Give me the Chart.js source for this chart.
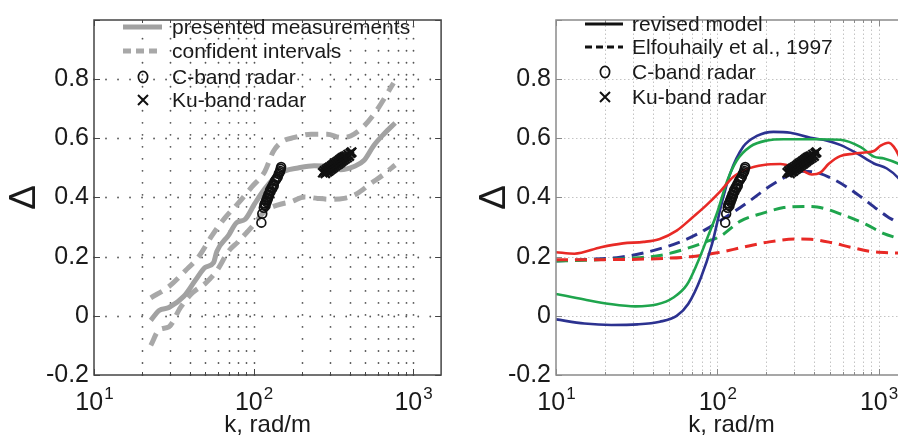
<!DOCTYPE html>
<html>
<head>
<meta charset="utf-8">
<script src="https://cdn.jsdelivr.net/npm/chart.js@4.4.0/dist/chart.umd.min.js"></script>
<style>
  html, body { margin: 0; padding: 0; background: #fff; overflow: hidden; width: 898px; height: 441px; }
  canvas { position: absolute; top: 0; }
  #left { left: 0; }
  #right { left: 450px; }
</style>
</head>
<body>
<canvas id="left" width="450" height="441"></canvas>
<canvas id="right" width="470" height="441"></canvas>
<script>
// ---- axis layout values ----
const kMin = 10, kMax = 1500;
const kDecades = [10, 100, 1000];
const kExponents = ['1', '2', '3'];
const kGridLines = [20, 30, 40, 50, 60, 70, 80, 90, 100, 200, 300, 400, 500, 600, 700, 800, 900, 1000];
const deltaTicks = [-0.2, 0, 0.2, 0.4, 0.6, 0.8, 1.0];
const deltaGridLines = [0, 0.2, 0.4, 0.6, 0.8];

// ---- left panel: measured Delta and its confidence band ----
const measK = [22.7, 25.6, 29.5, 36.6, 43.2, 49.9, 56.2, 58.9, 69.7, 78.4, 88.5, 102, 118, 136, 157, 190, 240, 305, 352, 427, 492, 568, 655, 773];
const measD = [-0.015, 0.018, 0.028, 0.066, 0.12, 0.164, 0.18, 0.218, 0.272, 0.315, 0.326, 0.38, 0.43, 0.467, 0.49, 0.50, 0.507, 0.505, 0.494, 0.505, 0.525, 0.576, 0.614, 0.652];
const upperK = [22.7, 29.5, 37.5, 45.3, 55, 66.4, 80, 97.3, 118, 132.5, 149.5, 181, 229, 290, 352, 406, 492, 593, 755];
const upperD = [0.061, 0.099, 0.153, 0.2, 0.272, 0.332, 0.38, 0.435, 0.489, 0.554, 0.587, 0.603, 0.614, 0.614, 0.603, 0.608, 0.641, 0.695, 0.787];
const lowerK = [22.7, 25.6, 29.5, 34.8, 41.3, 49.9, 58.9, 69.7, 80, 97.3, 118, 143, 173, 209, 252, 305, 369, 446, 539, 655, 773];
const lowerD = [-0.10, -0.047, -0.037, 0.028, 0.077, 0.11, 0.153, 0.218, 0.25, 0.3, 0.354, 0.375, 0.386, 0.402, 0.397, 0.394, 0.397, 0.413, 0.446, 0.478, 0.51];

// ---- radar estimates (both panels) ----
const cBandK = [112, 113.5, 116, 117, 118, 119, 120, 121, 122, 123, 124, 125, 126, 127, 128, 130, 131, 133, 134, 136, 138, 140, 142, 144, 146, 147, 148, 149];
const cBandD = [0.315, 0.345, 0.365, 0.375, 0.38, 0.372, 0.39, 0.385, 0.40, 0.395, 0.41, 0.405, 0.415, 0.425, 0.42, 0.435, 0.43, 0.445, 0.44, 0.455, 0.46, 0.465, 0.47, 0.48, 0.485, 0.49, 0.497, 0.503];
const kuBandK = [272, 278, 282, 286, 290, 293, 297, 300, 304, 308, 311, 315, 318, 322, 326, 330, 334, 338, 342, 346, 350, 354, 358, 362, 366, 370, 375, 380, 386, 392, 398, 405, 412];
const kuBandD = [0.484, 0.49, 0.482, 0.494, 0.487, 0.498, 0.49, 0.502, 0.495, 0.506, 0.499, 0.51, 0.503, 0.514, 0.507, 0.518, 0.511, 0.522, 0.515, 0.526, 0.519, 0.53, 0.523, 0.534, 0.527, 0.537, 0.531, 0.54, 0.535, 0.545, 0.54, 0.55, 0.553];

// ---- right panel: revised model (solid) ----
const revRedK = [10, 13, 19, 26, 35, 44, 56, 71, 86, 104, 126, 153, 194, 246, 298, 340, 385, 435, 491, 578, 700, 815, 935, 1030, 1150, 1240, 1330, 1420];
const revRedD = [0.215, 0.21, 0.232, 0.245, 0.25, 0.26, 0.288, 0.335, 0.375, 0.42, 0.47, 0.496, 0.51, 0.513, 0.503, 0.49, 0.478, 0.484, 0.514, 0.54, 0.548, 0.552, 0.557, 0.575, 0.585, 0.572, 0.543, 0.5];
const revGreenK = [10, 15, 21.6, 31, 42, 53.5, 64.8, 74.8, 87, 100, 115, 132, 160, 204, 258, 416, 578, 775, 935, 1080, 1330, 1420];
const revGreenD = [0.074, 0.055, 0.04, 0.032, 0.038, 0.062, 0.105, 0.175, 0.265, 0.35, 0.455, 0.525, 0.572, 0.593, 0.597, 0.597, 0.595, 0.57, 0.538, 0.532, 0.514, 0.505];
const revBlueK = [10, 15, 22, 32, 44, 56, 66, 79, 93, 107, 120, 145, 176, 223, 284, 378, 480, 578, 730, 935, 1125, 1330, 1420];
const revBlueD = [-0.012, -0.026, -0.031, -0.029, -0.02, 0.0, 0.04, 0.128, 0.245, 0.385, 0.48, 0.572, 0.608, 0.622, 0.619, 0.602, 0.592, 0.578, 0.55, 0.515, 0.498, 0.465, 0.44];

// ---- right panel: Elfouhaily et al., 1997 (dashed) ----
const elfRedK = [10, 20, 46, 68, 100, 145, 210, 320, 380, 505, 670, 890, 1190, 1420];
const elfRedD = [0.19, 0.19, 0.194, 0.2, 0.213, 0.232, 0.25, 0.26, 0.259, 0.248, 0.232, 0.218, 0.213, 0.212];
const elfGreenK = [10, 19, 32, 45, 65, 85, 105, 139, 194, 258, 345, 416, 610, 830, 1080, 1330, 1420];
const elfGreenD = [0.185, 0.19, 0.196, 0.205, 0.228, 0.25, 0.27, 0.32, 0.348, 0.366, 0.37, 0.368, 0.34, 0.31, 0.278, 0.261, 0.255];
const elfBlueK = [10, 15, 25, 41, 64, 90, 120, 160, 210, 284, 340, 416, 545, 730, 980, 1125, 1330, 1420];
const elfBlueD = [0.185, 0.19, 0.198, 0.222, 0.258, 0.3, 0.343, 0.39, 0.437, 0.477, 0.489, 0.484, 0.457, 0.413, 0.36, 0.337, 0.312, 0.3];

const FONT = '"Liberation Sans", Arial, Helvetica, sans-serif';
const RED = '#e82a26', GREEN = '#1fa54d', BLUE = '#2c3290';

const pts = (ks, ds) => ks.map((k, i) => ({ x: k, y: ds[i] }));

function curve(ks, ds, color, width, dash) {
  return {
    data: pts(ks, ds), showLine: true, pointRadius: 0, borderColor: color,
    borderWidth: width, borderDash: dash || [], cubicInterpolationMode: 'monotone', fill: false
  };
}
function cBandSet() {
  return { data: pts(cBandK, cBandD), showLine: false, pointStyle: 'circle', pointRadius: 4.4,
           borderColor: '#111', borderWidth: 1.7, backgroundColor: 'rgba(0,0,0,0)' };
}
function kuBandSet() {
  return { data: pts(kuBandK, kuBandD), showLine: false, pointStyle: 'crossRot', pointRadius: 6.5,
           borderColor: '#111', borderWidth: 2.4, backgroundColor: '#111' };
}

// frame, grid, inside ticks, decade labels and in-plot legend
function framePlugin(o) {
  return {
    id: 'frame',
    beforeDatasetsDraw(chart) {
      const { ctx, chartArea: a, scales: { x, y } } = chart;
      ctx.save();
      ctx.strokeStyle = o.gridColor; ctx.lineWidth = o.gridWidth;
      ctx.setLineDash(o.gridDash); ctx.lineCap = o.gridCap;
      kGridLines.forEach(k => {
        const px = Math.round(x.getPixelForValue(k)) + 0.5;
        ctx.beginPath(); ctx.moveTo(px, a.bottom); ctx.lineTo(px, a.top); ctx.stroke();
      });
      deltaGridLines.forEach(d => {
        const py = Math.round(y.getPixelForValue(d)) + 0.5;
        ctx.beginPath(); ctx.moveTo(a.left, py); ctx.lineTo(a.right, py); ctx.stroke();
      });
      ctx.restore();
    },
    afterDatasetsDraw(chart) {
      const { ctx, chartArea: a, scales: { x, y } } = chart;
      ctx.save();
      // inside tick marks
      ctx.strokeStyle = o.boxColor; ctx.lineWidth = 1; ctx.setLineDash([]);
      kGridLines.concat([10]).forEach(k => {
        const px = Math.round(x.getPixelForValue(k)) + 0.5;
        const len = kDecades.includes(k) ? 6 : 3;
        ctx.beginPath();
        ctx.moveTo(px, a.bottom); ctx.lineTo(px, a.bottom - len);
        ctx.moveTo(px, a.top); ctx.lineTo(px, a.top + len);
        ctx.stroke();
      });
      deltaTicks.forEach(d => {
        const py = Math.round(y.getPixelForValue(d)) + 0.5;
        ctx.beginPath();
        ctx.moveTo(a.left, py); ctx.lineTo(a.left + 6, py);
        ctx.moveTo(a.right, py); ctx.lineTo(a.right - 6, py);
        ctx.stroke();
      });
      // box
      ctx.lineWidth = o.boxWidth;
      ctx.strokeRect(a.left, a.top, a.right - a.left, a.bottom - a.top);
      // decade labels 10^n
      ctx.fillStyle = '#1a1a1a'; ctx.textBaseline = 'alphabetic'; ctx.textAlign = 'left';
      kDecades.forEach((k, i) => {
        const px = x.getPixelForValue(k);
        ctx.font = '25px ' + FONT;
        const wb = ctx.measureText('10').width;
        ctx.font = '17px ' + FONT;
        const we = ctx.measureText(kExponents[i]).width;
        const start = px - (wb + we) / 2;
        ctx.font = '25px ' + FONT;
        ctx.fillText('10', start, 410);
        ctx.font = '17px ' + FONT;
        ctx.fillText(kExponents[i], start + wb + 1, 399);
      });
      // legend
      ctx.font = '21px ' + FONT; ctx.textBaseline = 'middle';
      o.legend.forEach(it => {
        ctx.strokeStyle = it.color; ctx.lineWidth = it.width || 1.5;
        if (it.kind === 'line') {
          ctx.setLineDash(it.dash || []);
          ctx.beginPath(); ctx.moveTo(o.lx0, it.y); ctx.lineTo(o.lx1, it.y); ctx.stroke();
          ctx.setLineDash([]);
        } else if (it.kind === 'circle') {
          ctx.beginPath(); ctx.ellipse(o.lm, it.y, 4.6, 5.6, 0, 0, Math.PI * 2); ctx.stroke();
        } else {
          const r = 5;
          ctx.beginPath();
          ctx.moveTo(o.lm - r, it.y - r); ctx.lineTo(o.lm + r, it.y + r);
          ctx.moveTo(o.lm - r, it.y + r); ctx.lineTo(o.lm + r, it.y - r);
          ctx.stroke();
        }
        ctx.fillStyle = '#1a1a1a';
        ctx.fillText(it.text, o.lt, it.y + 1);
      });
      ctx.restore();
    }
  };
}

function makeOptions(yWidth, padRight, titlePad) {
  return {
    responsive: false, animation: false,
    layout: { padding: { left: 0, right: padRight, top: 6, bottom: 0 } },
    plugins: { legend: { display: false }, tooltip: { enabled: false } },
    scales: {
      x: {
        type: 'logarithmic', min: kMin, max: kMax,
        grid: { display: false, drawTicks: false }, border: { display: false },
        ticks: { display: false },
        title: { display: true, text: 'k, rad/m', color: '#1a1a1a', font: { size: 24, family: FONT },
                 padding: { top: 0, bottom: 1 } },
        afterFit: s => { s.height = 66; }
      },
      y: {
        type: 'linear', min: -0.2, max: 1.0,
        grid: { display: false, drawTicks: false }, border: { display: false },
        ticks: {
          stepSize: 0.2, padding: 5, color: '#1a1a1a', font: { size: 25, family: FONT },
          callback: v => (Math.abs(v - 1) < 1e-9 ? '' : String(Math.round(v * 10) / 10))
        },
        title: { display: true, text: 'Δ', color: '#1a1a1a', font: { size: 37, family: FONT },
                 padding: { top: titlePad, bottom: 0 } },
        afterFit: s => { s.width = yWidth; }
      }
    }
  };
}

const GREY = '#a2a2a2';
new Chart(document.getElementById('left'), {
  type: 'scatter',
  data: {
    datasets: [
      kuBandSet(),
      cBandSet(),
      curve(measK, measD, GREY, 5),
      curve(lowerK, lowerD, '#a8a8a8', 5, [13, 8]),
      curve(upperK, upperD, '#a8a8a8', 5, [13, 8])
    ]
  },
  options: makeOptions(94, 4, 3),
  plugins: [framePlugin({
    gridColor: '#555', gridWidth: 1.8, gridDash: [0.01, 12], gridCap: 'round',
    boxColor: '#444', boxWidth: 1.5,
    lx0: 123, lx1: 162, lm: 143, lt: 172,
    legend: [
      { kind: 'line', color: GREY, width: 5, text: 'presented measurements', y: 27 },
      { kind: 'line', color: '#a8a8a8', width: 5, dash: [8, 5], text: 'confident intervals', y: 51 },
      { kind: 'circle', color: '#111', width: 1.7, text: 'C-band radar', y: 77 },
      { kind: 'cross', color: '#111', width: 2, text: 'Ku-band radar', y: 100 }
    ]
  })]
});

new Chart(document.getElementById('right'), {
  type: 'scatter',
  data: {
    datasets: [
      kuBandSet(),
      cBandSet(),
      curve(revRedK, revRedD, RED, 2.6),
      curve(revGreenK, revGreenD, GREEN, 2.6),
      curve(revBlueK, revBlueD, BLUE, 2.6),
      curve(elfRedK, elfRedD, RED, 3, [12, 7]),
      curve(elfGreenK, elfGreenD, GREEN, 3, [12, 7]),
      curve(elfBlueK, elfBlueD, BLUE, 3, [12, 7])
    ]
  },
  options: makeOptions(106, 13, 23),
  plugins: [framePlugin({
    gridColor: '#c4c4c4', gridWidth: 1, gridDash: [1.5, 2.5], gridCap: 'butt',
    boxColor: '#8a8a8a', boxWidth: 1.5,
    lx0: 135, lx1: 173, lm: 155, lt: 182,
    legend: [
      { kind: 'line', color: '#111', width: 3, text: 'revised model', y: 24 },
      { kind: 'line', color: '#111', width: 3, dash: [7, 4], text: 'Elfouhaily et al., 1997', y: 47 },
      { kind: 'circle', color: '#111', width: 1.7, text: 'C-band radar', y: 72 },
      { kind: 'cross', color: '#111', width: 2, text: 'Ku-band radar', y: 97 }
    ]
  })]
});
</script>
</body>
</html>
